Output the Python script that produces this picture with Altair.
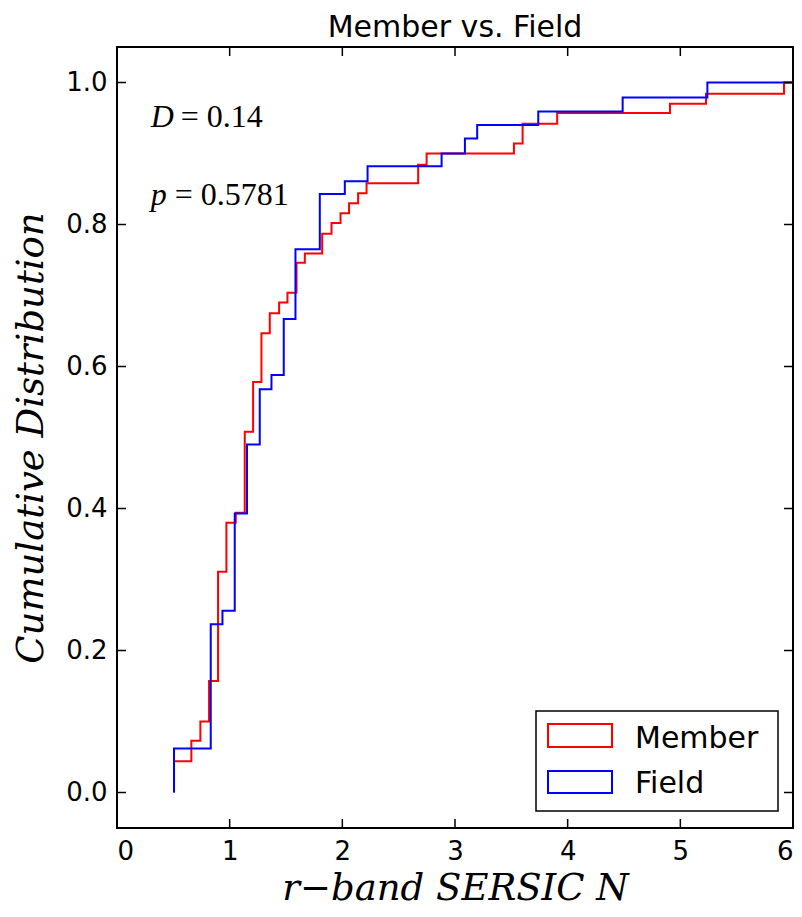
import altair as alt
import pandas as pd

# ---- data (cumulative step distributions) ----
member_edges = [0.506, 0.506, 0.66, 0.74, 0.817, 0.897, 0.971, 1.054, 1.134, 1.208,
                1.282, 1.356, 1.439, 1.513, 1.593, 1.667, 1.821, 1.904, 1.984, 2.06,
                2.14, 2.215, 2.673, 2.748, 3.523, 3.60, 3.907, 4.908, 5.228, 5.92, 6.0]
member_cdf = [0.0, 0.044, 0.073, 0.10, 0.157, 0.311, 0.38, 0.394, 0.508, 0.578,
              0.647, 0.675, 0.690, 0.704, 0.746, 0.759, 0.787, 0.802, 0.816, 0.830,
              0.844, 0.858, 0.884, 0.90, 0.914, 0.942, 0.957, 0.970, 0.984, 1.0, 1.0]

field_edges = [0.506, 0.506, 0.832, 0.936, 1.045, 1.154, 1.267, 1.371, 1.48, 1.584,
               1.80, 2.022, 2.224, 2.881, 3.088, 3.197, 3.739, 4.488, 5.24, 6.0]
field_cdf = [0.0, 0.062, 0.237, 0.256, 0.393, 0.490, 0.568, 0.588, 0.667, 0.765,
             0.843, 0.861, 0.882, 0.900, 0.921, 0.940, 0.959, 0.979, 1.0, 1.0]

series_names = ["Member", "Field"]
series_colors = ["#ff0000", "#0000ff"]

x_ticks = [0, 1, 2, 3, 4, 5, 6]
y_ticks = [0.0, 0.2, 0.4, 0.6, 0.8, 1.0]

annot_sym = ["D", "p"]
annot_rest = ["= 0.14", "= 0.5781"]
annot_x = [0.3, 0.3]
annot_y = [0.937, 0.828]
annot_dx = [30, 24]

chart_title = "Member vs. Field"

W, H = 676, 781

member_df = pd.DataFrame({"x": member_edges, "y": member_cdf,
                          "i": range(len(member_edges))})
field_df = pd.DataFrame({"x": field_edges, "y": field_cdf,
                         "i": range(len(field_edges))})

xscale = alt.Scale(domain=[0, 6], nice=False, zero=False)
yscale = alt.Scale(domain=[-0.05, 1.05], nice=False, zero=False)

xaxis = alt.Axis(values=x_ticks, format="d", title="r\u2212band SERSIC N",
                 titlePadding=6)
yaxis = alt.Axis(values=y_ticks, format=".1f", title="Cumulative Distribution",
                 titlePadding=15)


def step_layer(df, color):
    return alt.Chart(df).mark_line(interpolate="step-after", strokeWidth=2,
                                   color=color, clip=True).encode(
        x=alt.X("x:Q", scale=xscale, axis=xaxis),
        y=alt.Y("y:Q", scale=yscale, axis=yaxis),
        order="i:Q",
    )


member_line = step_layer(member_df, series_colors[0])
field_line = step_layer(field_df, series_colors[1])

# inward ticks on all four sides
xt = pd.DataFrame({"v": x_ticks})
yt = pd.DataFrame({"v": y_ticks})
tick_len = 9
bottom_ticks = alt.Chart(xt).mark_rule(color="black", strokeWidth=1.5).encode(
    x=alt.X("v:Q", scale=xscale), y=alt.value(H - tick_len), y2=alt.value(H))
top_ticks = alt.Chart(xt).mark_rule(color="black", strokeWidth=1.5).encode(
    x=alt.X("v:Q", scale=xscale), y=alt.value(0), y2=alt.value(tick_len))
left_ticks = alt.Chart(yt).mark_rule(color="black", strokeWidth=1.5).encode(
    y=alt.Y("v:Q", scale=yscale), x=alt.value(0), x2=alt.value(tick_len))
right_ticks = alt.Chart(yt).mark_rule(color="black", strokeWidth=1.5).encode(
    y=alt.Y("v:Q", scale=yscale), x=alt.value(W - tick_len), x2=alt.value(W))

# annotations (italic symbol + upright value)
annot_df = pd.DataFrame({"s": annot_sym, "r": annot_rest, "x": annot_x,
                         "y": annot_y, "dx": annot_dx})
annot_sym_mark = alt.Chart(annot_df).mark_text(
    font="Liberation Serif", fontSize=32, fontStyle="italic", align="left",
    baseline="alphabetic", color="black").encode(
    x=alt.X("x:Q", scale=xscale), y=alt.Y("y:Q", scale=yscale), text="s:N")
annot_rest_layers = []
for k in range(len(annot_sym)):
    sub = annot_df.iloc[[k]]
    annot_rest_layers.append(alt.Chart(sub).mark_text(
        font="Liberation Serif", fontSize=32, align="left",
        baseline="alphabetic", color="black", dx=int(annot_dx[k])).encode(
        x=alt.X("x:Q", scale=xscale), y=alt.Y("y:Q", scale=yscale),
        text="r:N"))

# legend (drawn manually)
one = pd.DataFrame({"k": [0]})
leg_box = alt.Chart(one).mark_rect(fill="white", stroke="black",
                                   strokeWidth=1.5).encode(
    x=alt.value(419), x2=alt.value(661), y=alt.value(664), y2=alt.value(764))
leg_items = []
sym_y = [(677, 700), (724, 746)]
lab_y = [701, 746]
for name, col, (y0, y1), ly in zip(series_names, series_colors, sym_y, lab_y):
    leg_items.append(alt.Chart(one).mark_rect(fill="white", stroke=col,
                                              strokeWidth=2).encode(
        x=alt.value(431), x2=alt.value(495), y=alt.value(y0), y2=alt.value(y1)))
    leg_items.append(alt.Chart(one).mark_text(
        text=name, font="DejaVu Sans", fontSize=30, align="left",
        baseline="alphabetic", color="black").encode(
        x=alt.value(518), y=alt.value(ly)))

# title as a text mark above the frame
title_mark = alt.Chart(one).mark_text(
    text=chart_title, font="DejaVu Sans", fontSize=30, align="center",
    baseline="alphabetic", color="black").encode(
    x=alt.value(W / 2), y=alt.value(-10))

chart = alt.layer(
    member_line, field_line,
    bottom_ticks, top_ticks, left_ticks, right_ticks,
    annot_sym_mark, *annot_rest_layers, leg_box, *leg_items, title_mark,
).properties(
    width=W, height=H,
    background="white",
    autosize=alt.AutoSizeParams(type="none"),
    padding={"left": 109, "top": 39, "right": 1, "bottom": 81},
).configure_view(
    stroke="black", strokeWidth=2
).configure_axis(
    labelFont="DejaVu Sans", labelFontSize=26, labelColor="black",
    labelPadding=10, ticks=False, tickSize=0, domain=False, grid=False,
    titleFont="DejaVu Serif", titleFontStyle="italic", titleFontWeight="normal",
    titleFontSize=37, titleColor="black",
)

chart.save("out.html", embed_options={"renderer": "svg", "actions": False})
